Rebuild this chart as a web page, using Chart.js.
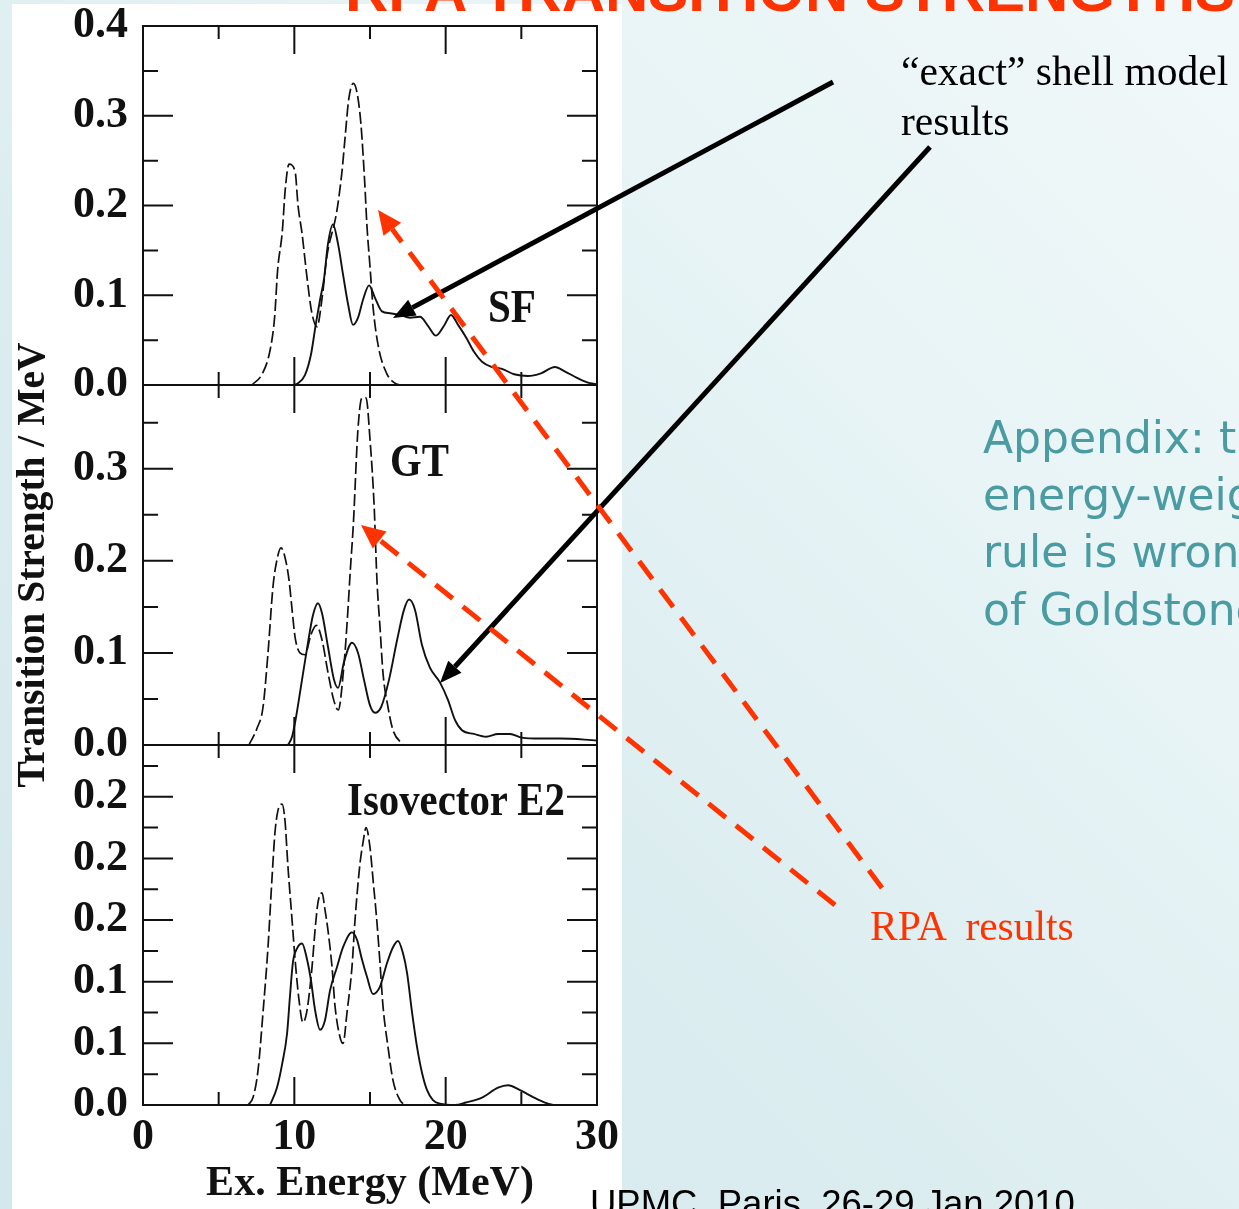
<!DOCTYPE html>
<html>
<head>
<meta charset="utf-8">
<script src="https://cdn.jsdelivr.net/npm/chart.js@4.4.1/dist/chart.umd.min.js"></script>
<style>
  html, body { margin: 0; padding: 0; }
  body {
    width: 1239px; height: 1209px; overflow: hidden; position: relative;
    background: linear-gradient(45deg, #d2e8ec 0%, #dcedf0 40%, #e8f4f6 70%, #f1f8f9 100%);
  }
  #figure { position: absolute; left: 12px; top: 4px; width: 610px; height: 1205px; background: #ffffff; }
  canvas { position: absolute; left: 0; top: 0; }
  #overlay { position: absolute; left: 0; top: 0; pointer-events: none; }
</style>
</head>
<body>
<div id="figure"></div>
<canvas id="sfChart" width="622" height="1209"></canvas>
<canvas id="gtChart" width="622" height="1209"></canvas>
<canvas id="e2Chart" width="622" height="1209"></canvas>
<svg id="overlay" width="1239" height="1209" xmlns="http://www.w3.org/2000/svg">
  <text x="345" y="11" font-family="Liberation Sans" font-weight="bold" font-size="60" fill="#ff3300">RPA TRANSITION STRENGTHS</text>
  <text transform="translate(44,565) rotate(-90)" text-anchor="middle" font-family="Liberation Serif" font-weight="bold" font-size="39.5" fill="#111">Transition Strength / MeV</text>
  <text x="488" y="322" font-family="Liberation Serif" font-weight="bold" font-size="47" textLength="48" lengthAdjust="spacingAndGlyphs" fill="#111">SF</text>
  <text x="390" y="476" font-family="Liberation Serif" font-weight="bold" font-size="47" textLength="59" lengthAdjust="spacingAndGlyphs" fill="#111">GT</text>
  <text x="347" y="815" font-family="Liberation Serif" font-weight="bold" font-size="47" textLength="218" lengthAdjust="spacingAndGlyphs" fill="#111">Isovector E2</text>
  <text x="901" y="85" font-family="Liberation Serif" font-size="41.5" fill="#000">“exact” shell model</text>
  <text x="901" y="135" font-family="Liberation Serif" font-size="41.5" fill="#000">results</text>
  <text x="870" y="940" font-family="Liberation Serif" font-size="41.5" fill="#ff3300" style="white-space:pre">RPA  results</text>
  <g font-family="DejaVu Sans" font-size="44" fill="#4a9ba2">
    <text x="983" y="453">Appendix: the</text>
    <text x="983" y="510">energy-weighted</text>
    <text x="983" y="567">rule is wrong</text>
    <text x="983" y="625">of Goldstone</text>
  </g>
  <text x="590" y="1216" font-family="Liberation Sans" font-size="36.5" fill="#000">UPMC, Paris, 26-29 Jan 2010</text>
  <g id="arrows"></g>
</svg>
<script>
// ---- x axis ----
const xMajorTicks = [10, 20];
const xMinorTicks = [5, 15, 25];
const xLabelValues = [0, 10, 20, 30];
const xLabels = ['0', '10', '20', '30'];

// ---- SF panel ----
const sfTickValues = [0, 0.1, 0.2, 0.3, 0.4];
const sfTickLabels = ['0.0', '0.1', '0.2', '0.3', '0.4'];
const sfMinorTicks = [0.05, 0.15, 0.25, 0.35];
const sfExactE = [9.9, 10.24, 10.7, 11.1, 11.43, 11.7, 11.96, 12.22, 12.55, 12.89, 13.22, 13.55, 13.88, 14.21, 14.54, 14.94, 15.33, 15.79, 16.32, 16.98, 17.64, 18.3, 18.83, 19.36, 19.89, 20.35, 20.82, 21.35, 21.87, 22.4, 23.06, 23.72, 24.52, 25.44, 26.3, 27.22, 27.89, 28.68, 29.54, 30];
const sfExactS = [0, 0.002, 0.011, 0.034, 0.069, 0.095, 0.118, 0.157, 0.179, 0.157, 0.123, 0.090, 0.067, 0.075, 0.095, 0.111, 0.097, 0.082, 0.080, 0.078, 0.075, 0.076, 0.066, 0.055, 0.066, 0.078, 0.067, 0.053, 0.037, 0.026, 0.020, 0.018, 0.012, 0.010, 0.013, 0.020, 0.015, 0.008, 0.002, 0.001];
const sfRpaE = [7.2, 7.9, 8.4, 8.7, 8.9, 9.2, 9.4, 9.65, 10.05, 10.25, 10.5, 10.85, 11.15, 11.5, 11.85, 12.15, 12.8, 13.15, 13.35, 13.6, 13.9, 14.15, 14.4, 14.65, 14.8, 15.0, 15.2, 15.55, 16.1, 16.65, 17.0];
const sfRpaS = [0, 0.013, 0.039, 0.076, 0.129, 0.170, 0.218, 0.246, 0.238, 0.199, 0.170, 0.118, 0.081, 0.065, 0.099, 0.143, 0.193, 0.238, 0.275, 0.319, 0.336, 0.325, 0.291, 0.226, 0.177, 0.132, 0.087, 0.043, 0.013, 0.002, 0];

// ---- GT panel ----
const gtTickValues = [0, 0.1, 0.2, 0.3];
const gtTickLabels = ['0.0', '0.1', '0.2', '0.3'];
const gtMinorTicks = [0.05, 0.15, 0.25, 0.35];
const gtExactE = [9.58, 9.85, 10.11, 10.51, 10.9, 11.23, 11.56, 11.83, 12.22, 12.62, 12.89, 13.28, 13.81, 14.21, 14.6, 15.0, 15.33, 15.73, 16.26, 16.79, 17.25, 17.58, 17.97, 18.43, 18.96, 19.62, 20.15, 20.62, 21.08, 21.87, 22.67, 23.46, 24.25, 25.04, 26.23, 27.56, 30];
const gtExactS = [0, 0.009, 0.030, 0.071, 0.111, 0.141, 0.154, 0.143, 0.107, 0.071, 0.062, 0.090, 0.111, 0.100, 0.071, 0.043, 0.035, 0.041, 0.071, 0.114, 0.147, 0.158, 0.147, 0.109, 0.084, 0.068, 0.049, 0.027, 0.016, 0.012, 0.009, 0.012, 0.012, 0.008, 0.007, 0.007, 0.005];
const gtRpaE = [7.0, 7.53, 7.93, 8.26, 8.59, 8.85, 9.12, 9.38, 9.65, 9.85, 10.05, 10.37, 10.7, 11.1, 11.45, 11.83, 12.22, 12.6, 12.9, 13.28, 13.5, 13.7, 13.9, 14.2, 14.47, 14.74, 15.0, 15.27, 15.46, 15.66, 15.86, 16.19, 16.52, 17.2];
const gtRpaS = [0, 0.018, 0.041, 0.100, 0.172, 0.201, 0.214, 0.204, 0.179, 0.147, 0.117, 0.100, 0.098, 0.120, 0.130, 0.114, 0.079, 0.049, 0.038, 0.087, 0.136, 0.190, 0.240, 0.342, 0.377, 0.377, 0.332, 0.261, 0.179, 0.128, 0.078, 0.041, 0.016, 0];

// ---- Isovector E2 panel ----
const e2TickValues = [0, 0.05, 0.1, 0.15, 0.2, 0.25];
const e2TickLabels = ['0.0', '0.1', '0.1', '0.2', '0.2', '0.2'];
const e2MinorTicks = [0.025, 0.075, 0.125, 0.175, 0.225, 0.275];
const e2ExactE = [8.39, 8.85, 9.19, 9.52, 9.71, 9.91, 10.18, 10.51, 10.84, 11.1, 11.37, 11.7, 12.03, 12.36, 12.82, 13.22, 13.81, 14.14, 14.47, 14.8, 15.2, 15.66, 16.12, 16.52, 16.85, 17.18, 17.45, 17.78, 18.11, 18.44, 18.77, 19.16, 19.63, 20.62, 21.34, 22.4, 23.46, 24.12, 24.91, 25.84, 26.56, 27.22, 30];
const e2ExactS = [0, 0.014, 0.033, 0.058, 0.088, 0.116, 0.127, 0.131, 0.118, 0.101, 0.077, 0.061, 0.069, 0.093, 0.112, 0.128, 0.140, 0.134, 0.118, 0.104, 0.090, 0.096, 0.115, 0.128, 0.133, 0.123, 0.107, 0.075, 0.047, 0.026, 0.012, 0.004, 0.001, 0, 0.002, 0.006, 0.014, 0.016, 0.012, 0.006, 0.002, 0, 0];
const e2RpaE = [6.94, 7.27, 7.6, 7.93, 8.26, 8.52, 8.72, 8.92, 9.19, 9.38, 9.58, 9.85, 10.05, 10.31, 10.57, 10.84, 11.17, 11.37, 11.56, 11.83, 12.03, 12.22, 12.49, 12.69, 13.02, 13.22, 13.48, 13.81, 14.01, 14.34, 14.54, 14.74, 15.0, 15.2, 15.46, 15.66, 15.86, 16.19, 16.52, 16.98, 17.31];
const e2RpaS = [0, 0.006, 0.028, 0.075, 0.128, 0.183, 0.221, 0.239, 0.244, 0.231, 0.193, 0.150, 0.118, 0.085, 0.067, 0.077, 0.112, 0.142, 0.164, 0.172, 0.158, 0.142, 0.112, 0.080, 0.055, 0.050, 0.075, 0.112, 0.150, 0.196, 0.213, 0.225, 0.209, 0.183, 0.148, 0.115, 0.080, 0.047, 0.020, 0.004, 0];

const INK = '#111111';
const yTickFont = { family: 'Liberation Serif', size: 44, weight: 'bold', lineHeight: 1 };
const xTickFont = { family: 'Liberation Serif', size: 44, weight: 'bold', lineHeight: 1.5 };

function points(es, ss) {
  return es.map((e, i) => ({ x: e, y: ss[i] }));
}

// Frame with inward ticks on all four sides of a panel
const panelFrame = {
  id: 'panelFrame',
  afterDatasetsDraw(chart, args, opts) {
    const { ctx, chartArea: a, scales: { x, y } } = chart;
    ctx.save();
    ctx.strokeStyle = INK;
    ctx.lineWidth = 2;
    ctx.strokeRect(a.left, a.top, a.right - a.left, a.bottom - a.top);
    ctx.beginPath();
    [[opts.yMajor, 30], [opts.yMinor, 15]].forEach(([vals, len]) => {
      vals.forEach(v => {
        const py = y.getPixelForValue(v);
        ctx.moveTo(a.left, py); ctx.lineTo(a.left + len, py);
        ctx.moveTo(a.right, py); ctx.lineTo(a.right - len, py);
      });
    });
    [[xMajorTicks, 28], [xMinorTicks, 13]].forEach(([vals, len]) => {
      vals.forEach(v => {
        const px = x.getPixelForValue(v);
        ctx.moveTo(px, a.top); ctx.lineTo(px, a.top + len);
        ctx.moveTo(px, a.bottom); ctx.lineTo(px, a.bottom - len);
      });
    });
    ctx.stroke();
    ctx.restore();
  }
};

function panel(id, p) {
  return new Chart(document.getElementById(id), {
    type: 'line',
    data: {
      datasets: [
        { label: 'RPA', data: points(p.rpaE, p.rpaS), borderDash: [12, 4], borderWidth: 1.7 },
        { label: 'exact', data: points(p.exactE, p.exactS), borderWidth: 1.9 }
      ]
    },
    options: {
      responsive: false,
      animation: false,
      devicePixelRatio: 1,
      // labels sit left-aligned at x=73, the y scale fills the rest up to the frame at x=143
      layout: { autoPadding: false, padding: { left: 73, right: 25, top: p.top, bottom: p.bottom } },
      elements: {
        point: { radius: 0 },
        line: { borderColor: INK, fill: false, cubicInterpolationMode: 'monotone' }
      },
      plugins: {
        legend: { display: false },
        tooltip: { enabled: false },
        panelFrame: { yMajor: p.tickValues, yMinor: p.minorTicks }
      },
      scales: {
        x: {
          type: 'linear', min: 0, max: 30,
          display: p.showX,
          afterFit: s => { s.height = p.showX ? 104 : 0; },
          afterBuildTicks: s => { s.ticks = xLabelValues.map(v => ({ value: v })); },
          grid: { display: false, drawTicks: false },
          border: { display: false },
          ticks: { font: xTickFont, color: INK, padding: 0, maxRotation: 0, autoSkip: false,
                   callback: (v, i) => xLabels[i] },
          title: { display: true, text: 'Ex. Energy (MeV)', color: INK,
                   font: { family: 'Liberation Serif', size: 42, weight: 'bold' },
                   padding: { top: 0, bottom: 0 } }
        },
        y: {
          type: 'linear', min: 0, max: p.yMax,
          afterFit: s => { s.width = 70; },
          afterBuildTicks: s => { s.ticks = p.tickValues.map(v => ({ value: v })); },
          grid: { display: false, drawTicks: false },
          border: { display: false },
          ticks: { font: yTickFont, color: INK, padding: 0, crossAlign: 'far', autoSkip: false,
                   callback: (v, i) => p.tickLabels[i] }
        }
      }
    },
    plugins: [panelFrame]
  });
}

panel('sfChart', { exactE: sfExactE, exactS: sfExactS, rpaE: sfRpaE, rpaS: sfRpaS,
  tickValues: sfTickValues, tickLabels: sfTickLabels, minorTicks: sfMinorTicks,
  yMax: 0.4, top: 26, bottom: 1209 - 385, showX: false });
panel('gtChart', { exactE: gtExactE, exactS: gtExactS, rpaE: gtRpaE, rpaS: gtRpaS,
  tickValues: gtTickValues, tickLabels: gtTickLabels, minorTicks: gtMinorTicks,
  yMax: 0.391, top: 385, bottom: 1209 - 745, showX: false });
panel('e2Chart', { exactE: e2ExactE, exactS: e2ExactS, rpaE: e2RpaE, rpaS: e2RpaS,
  tickValues: e2TickValues, tickLabels: e2TickLabels, minorTicks: e2MinorTicks,
  yMax: 0.292, top: 745, bottom: 0, showX: true });

// Callout arrows
const SVGNS = 'http://www.w3.org/2000/svg';
const arrowLayer = document.getElementById('arrows');
function arrow(x1, y1, x2, y2, color, dash, headLen, headHalf) {
  const dx = x2 - x1, dy = y2 - y1, L = Math.hypot(dx, dy);
  const ux = dx / L, uy = dy / L;
  const bx = x2 - ux * headLen, by = y2 - uy * headLen;
  const line = document.createElementNS(SVGNS, 'line');
  line.setAttribute('x1', x1); line.setAttribute('y1', y1);
  line.setAttribute('x2', bx); line.setAttribute('y2', by);
  line.setAttribute('stroke', color); line.setAttribute('stroke-width', 5);
  if (dash) line.setAttribute('stroke-dasharray', dash);
  arrowLayer.appendChild(line);
  const head = document.createElementNS(SVGNS, 'polygon');
  head.setAttribute('points', [
    [x2, y2],
    [bx - uy * headHalf, by + ux * headHalf],
    [bx + uy * headHalf, by - ux * headHalf]
  ].map(p => p.join(',')).join(' '));
  head.setAttribute('fill', color);
  arrowLayer.appendChild(head);
}
arrow(833, 82, 393, 318, '#000', null, 22, 9);
arrow(930, 147, 440, 683, '#000', null, 22, 9);
arrow(882, 888, 378, 210, '#ff3300', '22 13', 24, 11);
arrow(835, 905, 361, 525, '#ff3300', '22 13', 24, 11);
</script>
</body>
</html>
